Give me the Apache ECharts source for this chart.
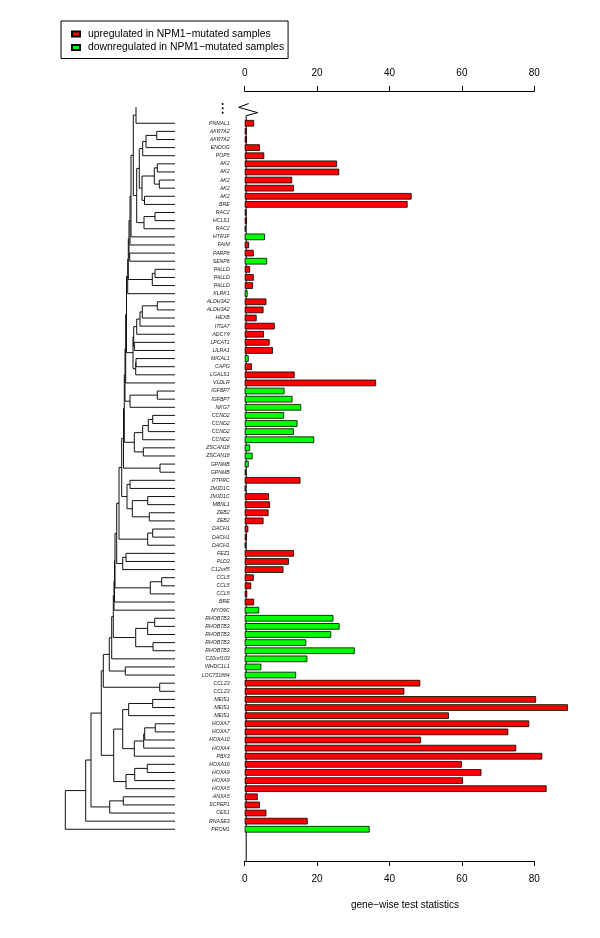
<!DOCTYPE html>
<html><head><meta charset="utf-8">
<script src="https://cdn.jsdelivr.net/npm/echarts@6/dist/echarts.min.js"></script>
<style>html,body{margin:0;padding:0;background:#fff}#c{width:600px;height:938px}</style>
</head><body><div id="c"></div>
<script>
// ---------------- data ----------------
const genes = ['PNMAL1','AKR7A2','AKR7A2','ENDOG','POP5','AK2','AK2','AK2','AK2','AK2','BRE','RAC2','HCLS1','RAC2',
 'HTR1F','FAIM','PARP8','SENP6','PALLD','PALLD','PALLD','KLRK1','ALDH3A2','ALDH3A2','HEXB','ITGA7','ADCY9','LPCAT1','LILRA1',
 'MICAL1','CAPG','LGALS1','VLDLR','IGFBP7','IGFBP7','NKG7','CCND2','CCND2','CCND2','CCND2','ZSCAN18','ZSCAN18','GPNMB','GPNMB',
 'PTPRC','JMJD1C','JMJD1C','MBNL1','ZEB2','ZEB2','DACH1','DACH1','DACH1','FEZ1','PLD3','C12orf5','CCL5','CCL5','CCL5','BRE',
 'MYO9C','RHOBTB3','RHOBTB3','RHOBTB3','RHOBTB3','RHOBTB3','C20orf103','WHDC1L1','LOC731884','CCL23','CCL23','MEIS1','MEIS1','MEIS1',
 'HOXA7','HOXA7','HOXA10','HOXA4','PBX3','HOXA10','HOXA9','HOXA9','HOXA5','ANXA5','SCPEP1','CES1','RNASE3','PROM1'];
const stats = [2.6,0.5,0.6,4.2,5.4,25.5,26.1,13.1,13.6,46.1,45.0,0.4,0.6,0.3,
 5.6,1.2,2.5,6.2,1.5,2.5,2.3,0.8,6.0,5.2,3.3,8.3,5.3,6.9,7.8,
 1.1,2.0,13.8,36.3,11.0,13.2,15.6,10.9,14.6,13.6,19.2,1.5,2.2,1.1,0.4,
 15.4,0.3,6.7,7.0,6.6,5.2,1.0,0.6,0.3,13.6,12.2,10.7,2.5,1.8,0.7,2.6,
 4.0,24.5,26.2,23.9,17.0,30.4,17.3,4.6,14.2,48.5,44.1,80.5,89.3,56.4,
 78.6,72.8,48.7,75.0,82.2,60.0,65.4,60.3,83.4,3.6,4.2,6.0,17.4,34.5];
const regulation = ['up','up','up','up','up','up','up','up','up','up','up','up','up','up',
 'down','up','up','down','up','up','up','down','up','up','up','up','up','up','up',
 'down','up','up','up','down','down','down','down','down','down','down','down','down','down','down',
 'up','up','up','up','up','up','up','up','up','up','up','up','up','up','up','up',
 'down','down','down','down','down','down','down','down','down','up','up','up','up','up',
 'up','up','up','up','up','up','up','up','up','up','up','up','up','down'];
const legendNames = ['upregulated in NPM1\u2212mutated samples','downregulated in NPM1\u2212mutated samples'];
const xTickInterval = 20, xMin = 0, xMax = 80;
const axisTitle = 'gene\u2212wise test statistics';
// dendrogram merges: [childA, childB, height]; negative = leaf row, positive = earlier merge, 'cut' = branch continuing above
const merges = [
 ['cut',-1,39],[-2,-3,18.3],[2,-4,29],[3,-5,32.3],[-6,-7,17.7],[-8,-9,15.7],[5,6,20.7],[-10,-11,30.5],[7,8,33],[4,9,35.7],
 [-12,-13,20],[11,-14,31],[10,12,38.3],[1,13,41.7],[14,-15,44],[15,-16,45],[-17,-18,45.3],[16,17,46],[-19,-20,20],[19,-21,22.7],
 [18,20,46.7],[21,-22,47.3],[-23,-24,17.7],[23,-25,32.7],[24,-26,35],[25,-27,38.3],[-28,-29,40.7],[26,27,41.3],[-30,-31,39],[29,-32,39.3],
 [28,30,42],[22,31,48.5],[32,-33,49.3],[-34,-35,17.7],[34,-36,45],[33,35,50],[-37,-38,22.3],[37,-39,26.7],[38,-40,32.3],[-41,-42,31.7],
 [39,40,40.7],[36,41,50.7],[-43,-44,15],[42,43,51.5],[-45,-46,45],[-47,-48,27.3],[-49,-50,25.7],[46,47,42.7],[45,48,48],[44,49,53.3],
 [-51,-52,22.3],[51,-53,27.3],[50,52,56],[-54,-55,49],[54,-56,52.3],[53,55,58.3],[-57,-58,13.3],[57,-59,24.7],[56,58,60],[59,-60,60.5],
 [60,-61,61],[-62,-63,20.3],[62,-64,27.3],[-65,-66,22],[63,64,39.3],[61,65,61.7],[66,-67,63.3],[-68,-69,49.7],[67,68,65.7],[-70,-71,15.3],
 [69,70,71.7],[-72,-73,22.3],[72,-74,46.3],[-75,-76,19.7],[74,-77,30.3],[75,-78,31.3],[76,-79,40.7],[73,77,52.3],[-80,-81,27.7],[79,-82,40.3],
 [80,-83,49],[78,81,61.3],[71,82,73.7],[-84,-85,51.7],[84,-86,65.3],[83,85,84],[86,-87,89.3],[87,-88,109.7]
];
const cutBranchRow = -1;

// ---------------- build ----------------
const FONT = '"Liberation Sans", Arial, Helvetica, sans-serif';
const nodes = [];
const segs = [];
function info(ref){
  if (ref === 'cut') return {pos: cutBranchRow, h: null};
  if (ref < 0) return {pos: -ref, h: 0};
  return nodes[ref-1];
}
merges.forEach(([a,b,h]) => {
  const A = info(a), B = info(b);
  const ha = A.h === null ? h : A.h, hb = B.h === null ? h : B.h;
  segs.push({coords: [[ha, A.pos],[h, A.pos],[h, B.pos],[hb, B.pos]]});
  nodes.push({pos: (A.pos + B.pos)/2, h: h});
});

const upData = stats.map((v,i) => regulation[i] === 'up' ? v : '-');
const downData = stats.map((v,i) => regulation[i] === 'down' ? v : '-');

const n = genes.length;
const rowH = 8.115;
const barTop = 119.2, barH = n*rowH;
const dendTop = barTop - 3*rowH;

const chart = echarts.init(document.getElementById('c'), null, {renderer:'canvas'});
const xAxisCommon = {
  type:'value', gridIndex:0, min:xMin, max:xMax, interval:xTickInterval,
  axisLine:{show:true, onZero:false, lineStyle:{color:'#000', width:1}},
  axisTick:{show:true, length:5, lineStyle:{color:'#000', width:1}},
  axisLabel:{fontSize:10, color:'#000', fontFamily:FONT, margin:13},
  splitLine:{show:false}
};
chart.setOption({
  animation:false,
  backgroundColor:'#fff',
  textStyle:{fontFamily:FONT},
  legend:{
    orient:'vertical', left:61, top:21, itemWidth:8, itemHeight:5, itemGap:2.5,
    padding:[7.5,4,5.5,10], borderColor:'#000', borderWidth:1, backgroundColor:'#fff',
    icon:'rect', selectedMode:false,
    textStyle:{fontSize:10.4, fontFamily:FONT, color:'#000', padding:[0,0,0,3], lineHeight:11},
    data:legendNames
  },
  grid:[
    {left:244.7, width:289.6, top:barTop, height:barH, containLabel:false},
    {left:25, width:150, top:dendTop, height:(n+3)*rowH, containLabel:false}
  ],
  xAxis:[
    Object.assign({}, xAxisCommon, {position:'bottom', offset:27.6}),
    Object.assign({}, xAxisCommon, {position:'top', offset:28.2}),
    {type:'value', gridIndex:1, min:0, max:150, inverse:true, show:false}
  ],
  yAxis:[
    {type:'category', gridIndex:0, data:genes, inverse:true,
     axisLine:{show:false}, axisTick:{show:false},
     axisLabel:{fontSize:5.2, fontStyle:'italic', color:'#222', margin:15, fontFamily:FONT, interval:0}},
    {type:'value', gridIndex:1, min:-2.5, max:n+0.5, inverse:true, show:false}
  ],
  series:[
    {name:legendNames[0], type:'bar', xAxisIndex:0, yAxisIndex:0, data:upData, barWidth:6.6, barGap:'-100%', clip:false,
     itemStyle:{color:'#FF0000', borderColor:'#000', borderWidth:0.8}},
    {name:legendNames[1], type:'bar', xAxisIndex:0, yAxisIndex:0, data:downData, barWidth:6.6, barGap:'-100%', clip:false,
     itemStyle:{color:'#00FF00', borderColor:'#000', borderWidth:0.8}},
    {type:'lines', coordinateSystem:'cartesian2d', xAxisIndex:2, yAxisIndex:1, polyline:true, silent:true,
     data:segs, lineStyle:{color:'#111', width:1, opacity:1}, effect:{show:false}}
  ]
});

// broken-axis marks and zero line (decoration)
const x0 = chart.convertToPixel({xAxisIndex:0}, 0);
const zx = x0 + 1.5;
chart.setOption({graphic:[
  {type:'polyline', shape:{points:[[zx+2.5,103.5],[zx-7.5,107.3],[zx+11.5,112.7],[zx,115.7],[zx,861]]}, style:{stroke:'#000', lineWidth:1, fill:null}, silent:true},
  {type:'circle', shape:{cx:222.7, cy:104, r:1}, style:{fill:'#000'}, silent:true},
  {type:'circle', shape:{cx:222.7, cy:108.3, r:1}, style:{fill:'#000'}, silent:true},
  {type:'circle', shape:{cx:222.7, cy:112.7, r:1}, style:{fill:'#000'}, silent:true},
  {type:'text', x:405, y:905, style:{text:axisTitle, fontSize:10, fontFamily:FONT, fill:'#000', align:'center', verticalAlign:'middle'}, silent:true}
]});
</script></body></html>
